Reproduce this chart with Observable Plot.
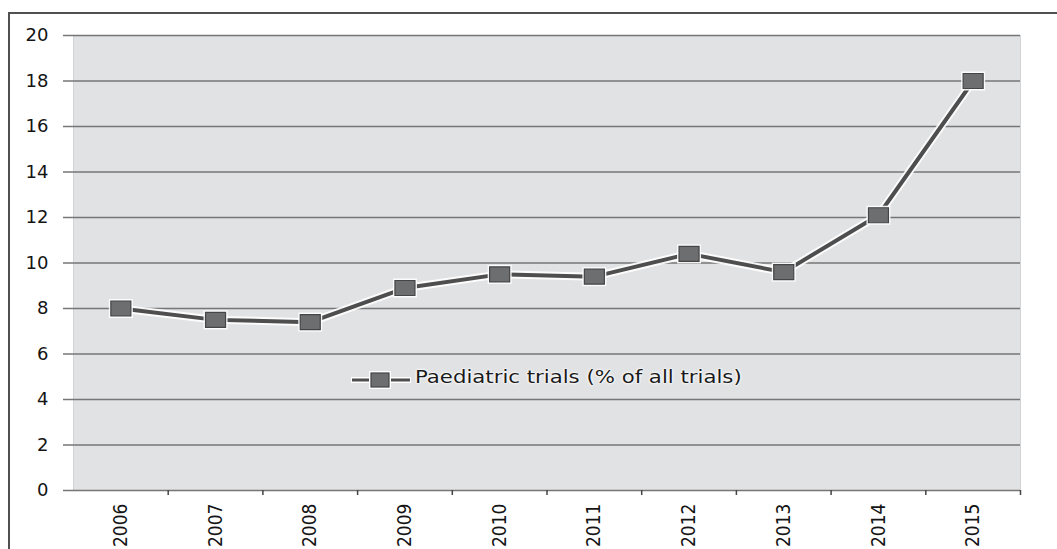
<!DOCTYPE html>
<html>
<head>
<meta charset="utf-8">
<script src="https://cdn.jsdelivr.net/npm/d3@7"></script>
<script src="https://cdn.jsdelivr.net/npm/@observablehq/plot@0.6"></script>
<style>
  body { margin: 0; background: #fff; }
  #wrap { position: relative; width: 1057px; height: 549px; overflow: hidden; background: #fff; }
  #chart { position: absolute; left: 0; top: 0; }
  #border { position: absolute; left: 8px; top: 12px; width: 1200px; height: 700px;
            border-left: 2px solid #505050; border-top: 2px solid #505050; pointer-events: none; }
  #legend-key { position: absolute; left: 349px; top: 369px; }
  #legend-text { position: absolute; left: 415px; top: 366px; line-height: 22px;
                 font-family: "DejaVu Sans", sans-serif; font-size: 18px; color: #1a1a1a;
                 white-space: nowrap; transform: scaleX(1.18); transform-origin: 0 50%;
                 text-shadow: 0 0 2px #fff, 0 0 2px #fff, 0 0 3px #fff; }
</style>
</head>
<body>
<div id="wrap">
  <div id="chart"></div>
  <div id="legend-key"></div>
  <div id="legend-text"></div>
  <div id="border"></div>
</div>
<script>
const years = [2006, 2007, 2008, 2009, 2010, 2011, 2012, 2013, 2014, 2015];
const values = [8.0, 7.5, 7.4, 8.9, 9.5, 9.4, 10.4, 9.6, 12.1, 18.0];
const yTicks = [0, 2, 4, 6, 8, 10, 12, 14, 16, 18, 20];
const seriesName = "Paediatric trials (% of all trials)";

const data = years.map((year, i) => ({year, value: values[i]}));
const boundaries = years.map(y => y + 0.5);

const rectSymbol = (w, h) => ({
  draw(context) {
    context.moveTo(-w / 2, -h / 2);
    context.lineTo(w / 2, -h / 2);
    context.lineTo(w / 2, h / 2);
    context.lineTo(-w / 2, h / 2);
    context.closePath();
  }
});
const haloSym = rectSymbol(24, 19);
const markSym = rectSymbol(20, 15);

const chart = Plot.plot({
  width: 1057,
  height: 549,
  marginLeft: 73,
  marginRight: 37,
  marginTop: 35,
  marginBottom: 59,
  style: {fontFamily: "DejaVu Sans, sans-serif", color: "#141414", background: "transparent", overflow: "visible"},
  x: {domain: [2005.5, 2015.5]},
  y: {domain: [0, 20]},
  marks: [
    Plot.frame({fill: "#e1e2e4", stroke: "#d2d3d5"}),
    Plot.gridY(yTicks, {stroke: "#767676", strokeOpacity: 1, strokeWidth: 1.5}),
    Plot.axisY(yTicks, {tickSize: 10, tickPadding: 15, stroke: "#767676", strokeWidth: 1.5,
      fontSize: 18, tickFormat: d => String(d), label: null}),
    Plot.axisX(boundaries, {tickSize: 5, tickFormat: () => "", stroke: "#444", strokeWidth: 1.5, label: null}),
    Plot.axisX(years, {tickSize: 0, tickPadding: 13, tickRotate: -90, tickFormat: d => String(d),
      fontSize: 19, fontFamily: "DejaVu Sans Condensed, DejaVu Sans, sans-serif", label: null}),
    Plot.line(data, {x: "year", y: "value", stroke: "white", strokeWidth: 8, strokeOpacity: 0.9}),
    Plot.line(data, {x: "year", y: "value", stroke: "#4e4e4e", strokeWidth: 4}),
    Plot.dot(data, {x: "year", y: "value", symbol: haloSym, fill: "white", fillOpacity: 0.9, stroke: "none"}),
    Plot.dot(data, {x: "year", y: "value", symbol: markSym, fill: "#6d6e70", stroke: "#454545", strokeWidth: 1.2})
  ]
});
document.getElementById("chart").appendChild(chart);

// Legend (inside plot area, like the original)
const key = d3.select("#legend-key").append("svg").attr("width", 64).attr("height", 22);
key.append("line").attr("x1", 2).attr("x2", 62).attr("y1", 11).attr("y2", 11)
  .attr("stroke", "white").attr("stroke-width", 6);
key.append("line").attr("x1", 3).attr("x2", 61).attr("y1", 11).attr("y2", 11)
  .attr("stroke", "#4e4e4e").attr("stroke-width", 3);
key.append("rect").attr("x", 20).attr("y", 2).attr("width", 22).attr("height", 18).attr("fill", "white");
key.append("rect").attr("x", 22).attr("y", 4).attr("width", 18).attr("height", 14)
  .attr("fill", "#6d6e70").attr("stroke", "#454545").attr("stroke-width", 1.2);
document.getElementById("legend-text").textContent = seriesName;
</script>
</body>
</html>
